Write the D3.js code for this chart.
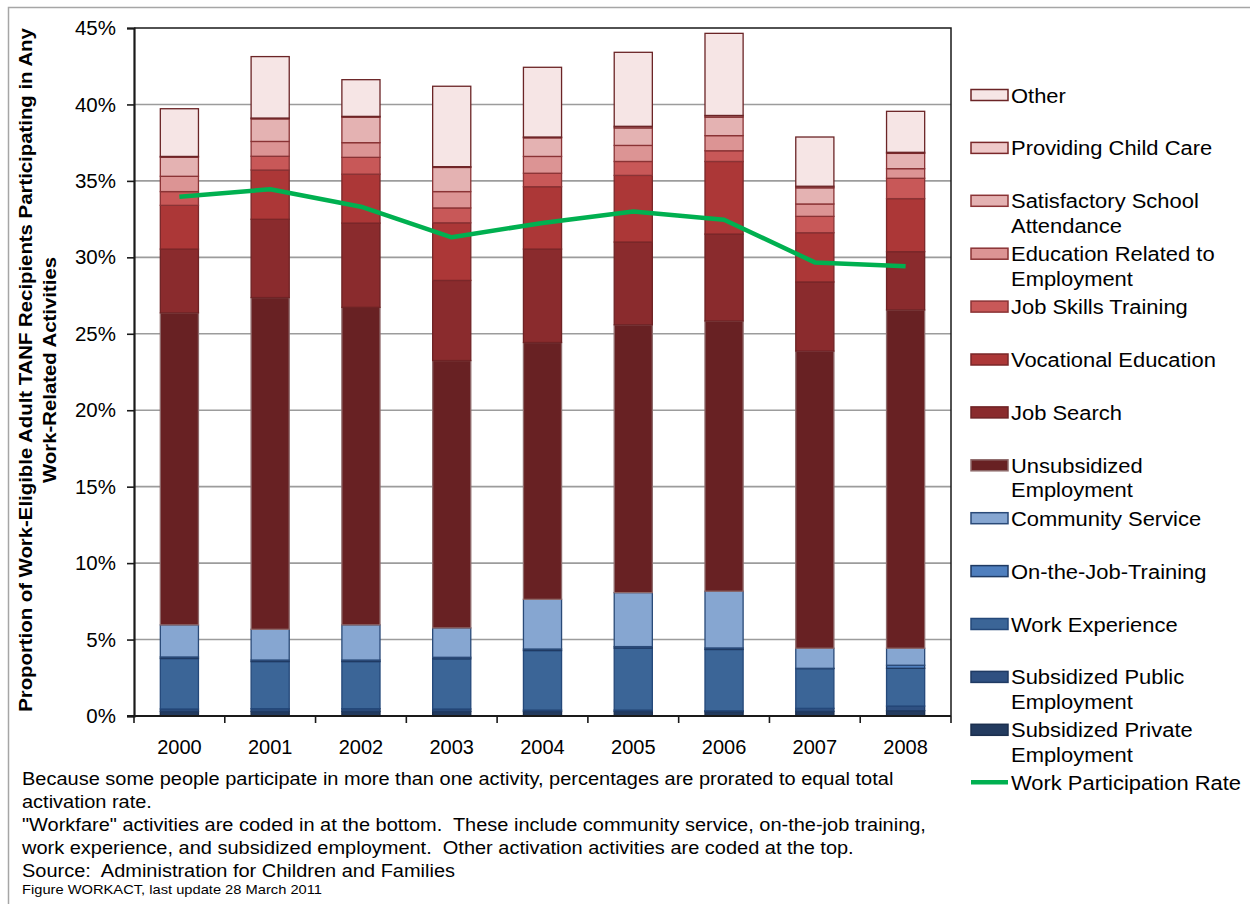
<!DOCTYPE html>
<html>
<head>
<meta charset="utf-8">
<script src="https://cdn.jsdelivr.net/npm/d3@7"></script>
<style>
  html, body { margin: 0; padding: 0; background: #fff; }
  svg { display: block; font-family: "Liberation Sans", Arial, sans-serif; }
</style>
</head>
<body>
<svg id="chart" width="1250" height="904"></svg>
<script>
// Years on the category axis
const years = ["2000", "2001", "2002", "2003", "2004", "2005", "2006", "2007", "2008"];

// Activity shares (% of work-eligible adult TANF recipients), stacked bottom to top
const subsidizedPrivate = [0.30, 0.30, 0.30, 0.30, 0.30, 0.30, 0.28, 0.30, 0.35];
const subsidizedPublic  = [0.16, 0.18, 0.18, 0.16, 0.09, 0.09, 0.07, 0.20, 0.30];
const workExperience    = [3.30, 3.08, 3.08, 3.28, 3.89, 4.05, 4.00, 2.60, 2.47];
const onTheJobTraining  = [0.10, 0.10, 0.10, 0.10, 0.10, 0.10, 0.10, 0.02, 0.20];
const communityService  = [2.10, 2.01, 2.30, 1.92, 3.25, 3.53, 3.71, 1.31, 1.11];
const unsubsidizedEmp   = [20.41, 21.70, 20.77, 17.49, 16.80, 17.52, 17.68, 19.44, 22.13];
const jobSearch         = [4.17, 5.12, 5.51, 5.24, 6.11, 5.41, 5.68, 4.52, 3.81];
const vocationalEd      = [2.86, 3.22, 3.20, 3.77, 4.08, 4.36, 4.75, 3.22, 3.47];
const jobSkills         = [0.90, 0.90, 1.10, 0.97, 0.88, 0.91, 0.70, 1.07, 1.33];
const educationRelated  = [1.00, 0.97, 0.96, 1.07, 1.10, 1.05, 0.99, 0.81, 0.63];
const schoolAttendance  = [1.25, 1.48, 1.67, 1.58, 1.22, 1.15, 1.22, 1.06, 1.00];
const childCare         = [0.05, 0.05, 0.05, 0.05, 0.05, 0.10, 0.10, 0.10, 0.07];
const otherActivity     = [3.12, 4.02, 2.40, 5.26, 4.56, 4.84, 5.37, 3.22, 2.68];

// Overall work participation rate (%)
const participationRate = [33.97, 34.45, 33.31, 31.31, 32.25, 33.00, 32.46, 29.67, 29.42];

// Y-axis tick values (%)
const yTicks = [0, 5, 10, 15, 20, 25, 30, 35, 40, 45];

// Series in stacking order (bottom first)
const series = [
  { key: "subPrivate", name: ["Subsidized Private", "Employment"], values: subsidizedPrivate, fill: "#233B5F", stroke: "#1B2F4E" },
  { key: "subPublic",  name: ["Subsidized Public", "Employment"],  values: subsidizedPublic,  fill: "#2F5081", stroke: "#1F3A63" },
  { key: "workExp",    name: ["Work Experience"],                  values: workExperience,    fill: "#3B6597", stroke: "#24487A" },
  { key: "ojt",        name: ["On-the-Job-Training"],              values: onTheJobTraining,  fill: "#4F7FBE", stroke: "#1F3A63" },
  { key: "commServ",   name: ["Community Service"],                values: communityService,  fill: "#86A6D1", stroke: "#2A4A78" },
  { key: "unsub",      name: ["Unsubsidized", "Employment"],       values: unsubsidizedEmp,   fill: "#682123", stroke: "#8E6A6B" },
  { key: "jobSearch",  name: ["Job Search"],                       values: jobSearch,         fill: "#8A2B2D", stroke: "#6E2325" },
  { key: "vocEd",      name: ["Vocational Education"],             values: vocationalEd,      fill: "#AC3737", stroke: "#7A2729" },
  { key: "jobSkills",  name: ["Job Skills Training"],              values: jobSkills,         fill: "#C85858", stroke: "#8A3335" },
  { key: "eduRel",     name: ["Education Related to", "Employment"], values: educationRelated, fill: "#DC9494", stroke: "#8A3335" },
  { key: "school",     name: ["Satisfactory School", "Attendance"], values: schoolAttendance, fill: "#E4B2B2", stroke: "#8A3335" },
  { key: "childCare",  name: ["Providing Child Care"],             values: childCare,         fill: "#EFC9C9", stroke: "#7A2729" },
  { key: "other",      name: ["Other"],                            values: otherActivity,     fill: "#F6E5E5", stroke: "#6B2426" }
];

const svg = d3.select("#chart");

// Outer frame
svg.append("rect")
  .attr("x", 8.5).attr("y", 7.5)
  .attr("width", 1250).attr("height", 920)
  .attr("fill", "none").attr("stroke", "#a6a6a6").attr("stroke-width", 1.5);

const plot = { left: 134, right: 951, top: 28, bottom: 716 };

const x = d3.scaleBand().domain(years).range([plot.left, plot.right]).padding(0);
const y = d3.scaleLinear().domain([0, 45]).range([plot.bottom, plot.top]);
const barWidth = x.bandwidth() * 0.42;

// Horizontal gridlines
svg.append("g")
  .selectAll("line")
  .data(yTicks.filter(d => d > 0 && d < 45))
  .join("line")
  .attr("x1", plot.left).attr("x2", plot.right)
  .attr("y1", d => y(d)).attr("y2", d => y(d))
  .attr("stroke", "#9c9c9c").attr("stroke-width", 1.6);

// Stack the activity shares
const table = years.map((yr, i) => {
  const row = { year: yr };
  series.forEach(s => { row[s.key] = s.values[i]; });
  return row;
});
const stacked = d3.stack().keys(series.map(s => s.key))(table);

const barsG = svg.append("g");
stacked.forEach((layer, li) => {
  const s = series[li];
  barsG.append("g")
    .selectAll("rect")
    .data(layer)
    .join("rect")
    .attr("x", d => x(d.data.year) + (x.bandwidth() - barWidth) / 2)
    .attr("y", d => y(d[1]))
    .attr("width", barWidth)
    .attr("height", d => Math.max(0, y(d[0]) - y(d[1])))
    .attr("fill", s.fill)
    .attr("stroke", s.stroke)
    .attr("stroke-width", 1.3);
});

// Work participation rate line
const line = d3.line()
  .x((d, i) => x(years[i]) + x.bandwidth() / 2)
  .y(d => y(d));
svg.append("path")
  .datum(participationRate)
  .attr("d", line)
  .attr("fill", "none")
  .attr("stroke", "#00B050")
  .attr("stroke-width", 4.5)
  .attr("stroke-linejoin", "round");

// Plot border (top and right)
svg.append("path")
  .attr("d", `M${plot.left},${plot.top}H${plot.right}V${plot.bottom}`)
  .attr("fill", "none").attr("stroke", "#1a1a1a").attr("stroke-width", 1.5);

// Y axis
const yAxis = svg.append("g")
  .attr("transform", `translate(${plot.left},0)`)
  .call(d3.axisLeft(y).tickValues(yTicks).tickFormat(d => d + "%").tickSize(7).tickPadding(11));
yAxis.select(".domain").attr("stroke", "#1a1a1a").attr("stroke-width", 2.2);
yAxis.selectAll(".tick line").attr("stroke", "#1a1a1a").attr("stroke-width", 1.6);
yAxis.selectAll(".tick text")
  .attr("font-size", 20.5).attr("fill", "#000")
  .attr("font-family", "'Liberation Sans', Arial, sans-serif");

// X axis: labels centred under bars, ticks on category boundaries
const xAxis = svg.append("g")
  .attr("transform", `translate(0,${plot.bottom})`)
  .call(d3.axisBottom(x).tickSize(0).tickPadding(24));
xAxis.select(".domain").remove();
xAxis.selectAll(".tick text")
  .attr("font-size", 20).attr("fill", "#000")
  .attr("font-family", "'Liberation Sans', Arial, sans-serif");

const boundaries = years.map(yr => x(yr)).concat([x(years[years.length - 1]) + x.bandwidth()]);
svg.append("g")
  .selectAll("line")
  .data(boundaries)
  .join("line")
  .attr("x1", d => d).attr("x2", d => d)
  .attr("y1", plot.bottom).attr("y2", plot.bottom + 7)
  .attr("stroke", "#1a1a1a").attr("stroke-width", 1.6);
svg.append("line")
  .attr("x1", plot.left - 7).attr("x2", plot.right)
  .attr("y1", plot.bottom).attr("y2", plot.bottom)
  .attr("stroke", "#1a1a1a").attr("stroke-width", 2.2);

// Y axis title (two lines, rotated, slightly widened along the text)
const yTitle = svg.append("text")
  .attr("transform", `translate(32,370) rotate(-90) scale(1.1,1)`)
  .attr("text-anchor", "middle")
  .attr("font-weight", "bold")
  .attr("font-size", 18.5)
  .attr("fill", "#000");
yTitle.append("tspan").attr("x", 0).attr("dy", 0)
  .text("Proportion of Work-Eligible Adult TANF Recipients Participating in Any");
yTitle.append("tspan").attr("x", 0).attr("dy", 24.5)
  .text("Work-Related Activities");

// Legend (top entry first)
const legendTop = 95, legendStep = 52.9, lineGap = 24.5;
const legendItems = series.slice().reverse();
const legend = svg.append("g");
function legendLabel(cy, parts) {
  const t = legend.append("text")
    .attr("transform", `translate(1011,${cy + 7.5}) scale(1.045,1)`)
    .attr("font-size", 21).attr("fill", "#000");
  parts.forEach((part, k) => {
    t.append("tspan").attr("x", 0).attr("dy", k === 0 ? 0 : lineGap).text(part);
  });
}
legendItems.forEach((s, i) => {
  const cy = legendTop + i * legendStep;
  legend.append("rect")
    .attr("x", 971).attr("y", cy - 5.5)
    .attr("width", 37).attr("height", 11)
    .attr("fill", s.fill).attr("stroke", s.stroke).attr("stroke-width", 1.5);
  legendLabel(cy, s.name);
});
{
  const cy = legendTop + legendItems.length * legendStep - 0.5;
  legend.append("line")
    .attr("x1", 971).attr("x2", 1008)
    .attr("y1", cy).attr("y2", cy)
    .attr("stroke", "#00B050").attr("stroke-width", 4.5);
  legendLabel(cy, ["Work Participation Rate"]);
}

// Notes beneath the chart
const notes = [
  { text: "Because some people participate in more than one activity, percentages are prorated to equal total", y: 785 },
  { text: "activation rate.", y: 808 },
  { text: "\"Workfare\" activities are coded in at the bottom.  These include community service, on-the-job training,", y: 831 },
  { text: "work experience, and subsidized employment.  Other activation activities are coded at the top.", y: 854 },
  { text: "Source:  Administration for Children and Families", y: 877 }
];
svg.append("g")
  .selectAll("text")
  .data(notes)
  .join("text")
  .attr("transform", d => `translate(22,${d.y}) scale(1.08,1)`)
  .attr("font-size", 18.5).attr("fill", "#000")
  .style("white-space", "pre")
  .text(d => d.text);
svg.append("text")
  .attr("transform", "translate(22,894) scale(1.13,1)")
  .attr("font-size", 13).attr("fill", "#000")
  .text("Figure WORKACT, last update 28 March 2011");
</script>
</body>
</html>
